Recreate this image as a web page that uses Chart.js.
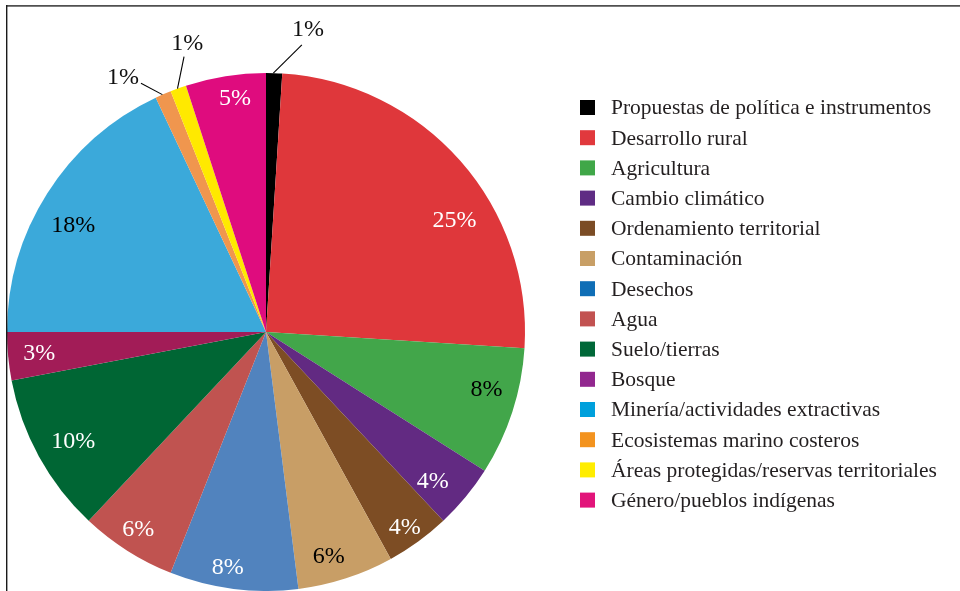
<!DOCTYPE html>
<html><head><meta charset="utf-8">
<script src="https://cdn.jsdelivr.net/npm/chart.js@4/dist/chart.umd.min.js"></script>
<style>html,body{margin:0;padding:0;background:#fff;}#wrap{position:relative;width:960px;height:591px;}canvas{display:block;}</style>
</head><body><div id="wrap"><canvas id="c" width="960" height="591"></canvas></div>
<script>
// ---- data ----
const categories = [
  'Propuestas de política e instrumentos',
  'Desarrollo rural',
  'Agricultura',
  'Cambio climático',
  'Ordenamiento territorial',
  'Contaminación',
  'Desechos',
  'Agua',
  'Suelo/tierras',
  'Bosque',
  'Minería/actividades extractivas',
  'Ecosistemas marino costeros',
  'Áreas protegidas/reservas territoriales',
  'Género/pueblos indígenas'
];
const values = [1, 25, 8, 4, 4, 6, 8, 6, 10, 3, 18, 1, 1, 5];

// ---- styles ----
const sliceColors = ['#000000','#DF373B','#42A64A','#622A82','#7D4D24','#C89E66','#5183BE','#C05350','#006634','#A21C57','#3BA9DA','#F0964E','#FFE900','#DF0C7E'];
const legendColors = ['#000000','#E1393D','#40A748','#5F2C84','#7B4C25','#C89F66','#0F6EB6','#C25251','#006838','#92278F','#00A0DC','#F3931F','#FFED00','#E2147A'];
const labelColors = ['#000','#fff','#000','#fff','#fff','#000','#fff','#fff','#fff','#fff','#000','#000','#000','#fff'];
// relative label placement within each slice: fraction along the slice, fraction of radius
const labelAlong  = [0.5, 0.62, 0.385, 0.66, 0.55, 0.61, 0.57, 0.52, 0.475, 0.49, 0.445, 0.5, 0.5, 0.58];
const labelRadius = [0.88, 0.845, 0.88, 0.865, 0.927, 0.9, 0.92, 0.91, 0.857, 0.88, 0.85, 0.88, 0.88, 0.91];
// callouts for the tiny slices: [line angle offset deg, line radius factor, text angle offset deg, text radius factor]
const callouts = {0: [5.5, 1.117, 6.3, 1.178], 11: [-3.1, 1.075, -5.8, 1.126], 12: [3.4, 1.109, 4.7, 1.153]};
const SERIF = "'Liberation Serif', 'Times New Roman', serif";

const total = values.reduce((a, b) => a + b, 0);

const labelPlugin = {
  id: 'sliceLabels',
  afterDatasetsDraw(chart) {
    const ctx = chart.ctx;
    const meta = chart.getDatasetMeta(0);
    ctx.save();
    ctx.font = '24px ' + SERIF;
    ctx.textAlign = 'center';
    ctx.textBaseline = 'middle';
    meta.data.forEach((arc, i) => {
      const p = arc.getProps(['x', 'y', 'startAngle', 'endAngle', 'outerRadius'], true);
      const txt = Math.round(values[i] / total * 100) + '%';
      const co = callouts[i];
      if (co) {
        const a0 = p.startAngle + 0.45 * (p.endAngle - p.startAngle);
        const a1 = a0 + co[0] * Math.PI / 180;
        const a2 = a0 + co[2] * Math.PI / 180;
        ctx.strokeStyle = '#000';
        ctx.lineWidth = 1.1;
        ctx.beginPath();
        ctx.moveTo(p.x + Math.cos(a0) * p.outerRadius, p.y + Math.sin(a0) * p.outerRadius);
        ctx.lineTo(p.x + Math.cos(a1) * p.outerRadius * co[1], p.y + Math.sin(a1) * p.outerRadius * co[1]);
        ctx.stroke();
        ctx.fillStyle = '#111';
        ctx.fillText(txt, p.x + Math.cos(a2) * p.outerRadius * co[3], p.y + Math.sin(a2) * p.outerRadius * co[3]);
      } else {
        const a = p.startAngle + labelAlong[i] * (p.endAngle - p.startAngle);
        const r = p.outerRadius * labelRadius[i];
        ctx.fillStyle = labelColors[i];
        ctx.fillText(txt, p.x + Math.cos(a) * r, p.y + Math.sin(a) * r);
      }
    });
    ctx.restore();
  }
};

const legendPlugin = {
  id: 'sideLegend',
  afterDraw(chart) {
    const ctx = chart.ctx;
    ctx.save();
    const boxX = 580, box = 15, textX = 611, firstY = 107.5, step = 30.2;
    ctx.font = '21.5px ' + SERIF;
    ctx.textAlign = 'left';
    ctx.textBaseline = 'alphabetic';
    categories.forEach((c, i) => {
      const cy = firstY + i * step;
      ctx.fillStyle = legendColors[i];
      ctx.fillRect(boxX, cy - box / 2, box, box);
      ctx.fillStyle = '#231F20';
      ctx.fillText(c, textX, cy + 6.8);
    });
    // frame
    ctx.strokeStyle = '#505050';
    ctx.lineWidth = 1.8;
    ctx.beginPath(); ctx.moveTo(6, 5.8); ctx.lineTo(960, 5.8); ctx.stroke();
    ctx.strokeStyle = '#1a1a1a';
    ctx.lineWidth = 1.4;
    ctx.beginPath(); ctx.moveTo(6.7, 5); ctx.lineTo(6.7, 591); ctx.stroke();
    ctx.restore();
  }
};

new Chart(document.getElementById('c'), {
  type: 'pie',
  data: {
    labels: categories,
    datasets: [{
      data: values,
      backgroundColor: sliceColors,
      borderWidth: 0,
      hoverOffset: 0
    }]
  },
  options: {
    responsive: false,
    devicePixelRatio: 1,
    animation: false,
    layout: { padding: { left: 7, top: 73, right: 435, bottom: 0 } },
    plugins: { legend: { display: false }, tooltip: { enabled: false } }
  },
  plugins: [labelPlugin, legendPlugin]
});
</script>
</body></html>
